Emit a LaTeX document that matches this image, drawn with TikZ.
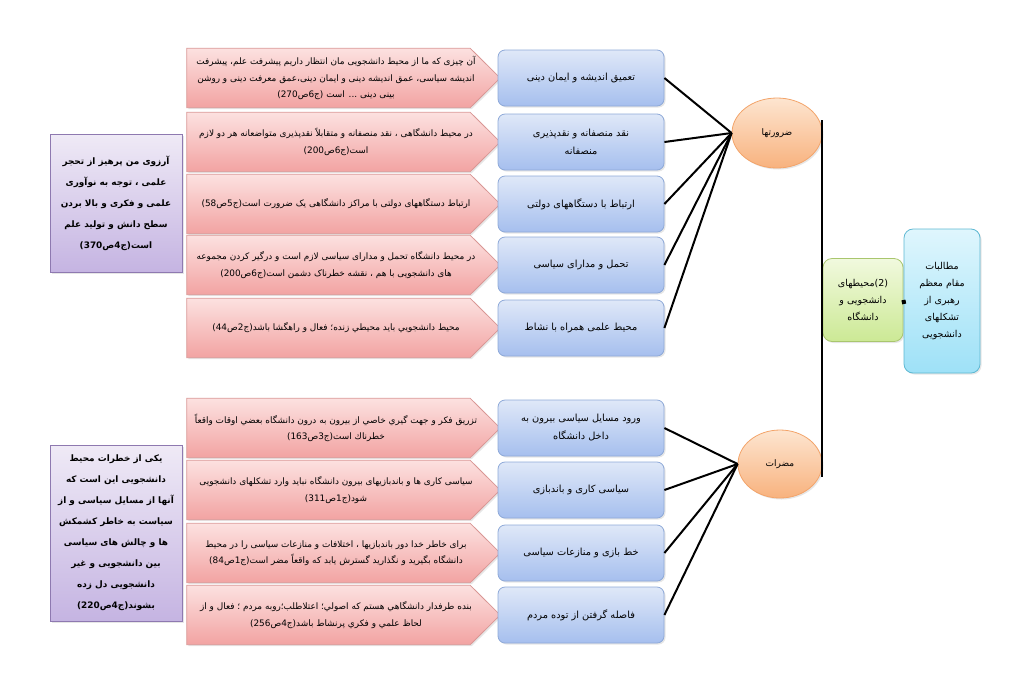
\documentclass[tikz,border=0pt]{standalone}
\usepackage{fontspec}
\newfontfamily\arabicfont[Script=Arabic]{DejaVu Sans}
\TeXXeTstate=1
\usetikzlibrary{shapes.geometric,arrows.meta,backgrounds,shadows}
\definecolor{quotetop}{HTML}{FCE1E0}
\definecolor{quotebot}{HTML}{F2A3A2}
\definecolor{quoteline}{HTML}{D99694}
\definecolor{topictop}{HTML}{DFE8F8}
\definecolor{topicbot}{HTML}{A6BFEE}
\definecolor{topicline}{HTML}{8EA9D8}
\definecolor{notetop}{HTML}{EFEAF6}
\definecolor{notebot}{HTML}{C5B4E2}
\definecolor{noteline}{HTML}{8E79B0}
\definecolor{branchtop}{HTML}{FDE5D0}
\definecolor{branchbot}{HTML}{F8B27E}
\definecolor{branchline}{HTML}{F3A46A}
\definecolor{envtop}{HTML}{F1F9DE}
\definecolor{envbot}{HTML}{CCE995}
\definecolor{envline}{HTML}{A9C66E}
\definecolor{roottop}{HTML}{DFF6FD}
\definecolor{rootbot}{HTML}{9EE1F7}
\definecolor{rootline}{HTML}{5DB8D2}
\newcommand{\fa}[1]{\beginR #1\endR}

\begin{document}
\begin{tikzpicture}[x=1pt,y=-1pt,
  soft/.style={drop shadow={opacity=0.2,shadow xshift=1.5pt,shadow yshift=-1.5pt}},
  quote/.style={rectangle,minimum width=298pt,minimum height=59pt,inner sep=0pt,align=center,
    font=\arabicfont\fontsize{8.9}{16.5}\selectfont},
  quoteshape/.style={draw=quoteline,line width=0.8pt,top color=quotetop,bottom color=quotebot,soft},
  topic/.style={rectangle,rounded corners=7pt,draw=topicline,line width=0.8pt,top color=topictop,bottom color=topicbot,soft,
    minimum width=166pt,minimum height=56pt,align=center,font=\arabicfont\fontsize{9.8}{18}\selectfont},
  note/.style={rectangle,draw=noteline,line width=0.8pt,top color=notetop,bottom color=notebot,soft,
    minimum width=132pt,align=center,font=\arabicfont\bfseries\fontsize{8.9}{21}\selectfont},
  branch/.style={ellipse,draw=branchline,line width=0.8pt,top color=branchtop,bottom color=branchbot,soft,
    inner sep=0pt,font=\arabicfont\fontsize{9}{12}\selectfont},
  env/.style={rectangle,rounded corners=9pt,draw=envline,line width=0.8pt,top color=envtop,bottom color=envbot,soft,
    minimum width=80pt,minimum height=83pt,inner sep=0pt,align=center,font=\arabicfont\fontsize{9.5}{17}\selectfont},
  root/.style={rectangle,rounded corners=9pt,draw=rootline,line width=0.8pt,top color=roottop,bottom color=rootbot,soft,
    minimum width=76pt,minimum height=144pt,inner sep=0pt,align=center,font=\arabicfont\fontsize{9.5}{17}\selectfont},
  link/.style={line width=2pt,black}]
\useasboundingbox (0,0) rectangle (1024,694);

\node[quote] (q1) at (336,78) {\fa{آن چیزی که ما از محیط دانشجویی مان انتظار داریم پیشرفت علم، پیشرفت}\\
  \fa{اندیشه سیاسی، عمق اندیشه دینی و ایمان دینی،عمق معرفت دینی و روشن}\\
  \fa{بینی دینی ... است (ج6ص270)}};
\node[quote] (q2) at (336,142) {\fa{در محیط دانشگاهی ، نقد منصفانه و متقابلاً نقدپذیری متواضعانه هر دو لازم}\\
  \fa{است(ج6ص200)}};
\node[quote] (q3) at (336,204) {\fa{ارتباط دستگاههای دولتی با مراکز دانشگاهی یک ضرورت است(ج5ص58)}};
\node[quote] (q4) at (336,265) {\fa{در محیط دانشگاه تحمل و مدارای سیاسی لازم است و درگیر کردن مجموعه}\\
  \fa{های دانشجویی با هم ، نقشه خطرناک دشمن است(ج6ص200)}};
\node[quote] (q5) at (336,328) {\fa{محیط دانشجویي باید محیطي زنده؛ فعال و راهگشا باشد(ج2ص44)}};

\node[topic] (t1) at (581,78) {\fa{تعمیق اندیشه و ایمان دینی}};
\node[topic] (t2) at (581,142) {\fa{نقد منصفانه و نقدپذیری}\\ \fa{منصفانه}};
\node[topic] (t3) at (581,204) {\fa{ارتباط با دستگاههای دولتی}};
\node[topic] (t4) at (581,265) {\fa{تحمل و مدارای سیاسی}};
\node[topic] (t5) at (581,328) {\fa{محیط علمی همراه با نشاط}};

\node[quote] (q6) at (336,428) {\fa{تزریق فکر و جهت گیري خاصي از بیرون به درون دانشگاه بعضي اوقات واقعاً}\\
  \fa{خطرناك است(ج3ص163)}};
\node[quote] (q7) at (336,490) {\fa{سیاسی کاری ها و باندبازیهای بیرون دانشگاه نباید وارد تشکلهای دانشجویی}\\
  \fa{شود(ج1ص311)}};
\node[quote] (q8) at (336,553) {\fa{برای خاطر خدا دور باندبازیها ، اختلافات و منازعات سیاسی را در محیط}\\
  \fa{دانشگاه بگیرید و نگذارید گسترش یابد که واقعاً مضر است(ج1ص84)}};
\node[quote] (q9) at (336,615) {\fa{بنده طرفدار دانشگاهي هستم که اصولي؛ اعتلاطلب؛روبه مردم ؛ فعال و از}\\
  \fa{لحاظ علمي و فکري پرنشاط باشد(ج4ص256)}};

\node[topic] (t6) at (581,428) {\fa{ورود مسایل سیاسی بیرون به}\\ \fa{داخل دانشگاه}};
\node[topic] (t7) at (581,490) {\fa{سیاسی کاری و باندبازی}};
\node[topic] (t8) at (581,553) {\fa{خط بازی و منازعات سیاسی}};
\node[topic] (t9) at (581,615) {\fa{فاصله گرفتن از توده مردم}};

\node[note,minimum height=138pt] (n1) at (116,203) {\fa{آرزوی من پرهیز از تحجر}\\ \fa{علمی ، توجه به نوآوری}\\
  \fa{علمی و فکری و بالا بردن}\\ \fa{سطح دانش و تولید علم}\\ \fa{است(ج4ص370)}};
\node[note,minimum height=176pt] (n2) at (116,533) {\fa{یکی از خطرات محیط}\\ \fa{دانشجویی این است که}\\
  \fa{آنها از مسایل سیاسی و از}\\ \fa{سیاست به خاطر کشمکش}\\ \fa{ها و چالش های سیاسی}\\
  \fa{بین دانشجویی و غیر}\\ \fa{دانشجویی دل زده}\\ \fa{بشوند(ج4ص220)}};

\node[branch,minimum width=90pt,minimum height=70pt] (b1) at (777,133) {\fa{ضرورتها}};
\node[branch,minimum width=84pt,minimum height=68pt] (b2) at (780,464) {\fa{مضرات}};
\node[env] (env) at (863,300) {\fa{(2)محیطهای}\\ \fa{دانشجویی و}\\ \fa{دانشگاه}};
\node[root] (root) at (942,301) {\fa{مطالبات}\\ \fa{مقام معظم}\\ \fa{رهبری از}\\ \fa{تشکلهای}\\ \fa{دانشجویی}};
\coordinate (vtop) at (822,120);
\coordinate (vbot) at (822,477);

\begin{pgfonlayer}{background}
\foreach \i in {1,...,9} {
  \path[quoteshape] (q\i.north west) -- ([xshift=-15pt]q\i.north east) -- ([xshift=15pt]q\i.east)
    -- ([xshift=-15pt]q\i.south east) -- (q\i.south west) -- cycle;}
\end{pgfonlayer}
\foreach \i in {1,...,5} {\draw[link] (t\i.east) -- (b1.west);}
\foreach \i in {6,...,9} {\draw[link] (t\i.east) -- (b2.west);}
\draw[link] (vtop) -- (vbot);
\draw[line width=1pt,{Square[length=4pt,width=4pt]}-] (env.east) -- (root.west);
\end{tikzpicture}
\end{document}
